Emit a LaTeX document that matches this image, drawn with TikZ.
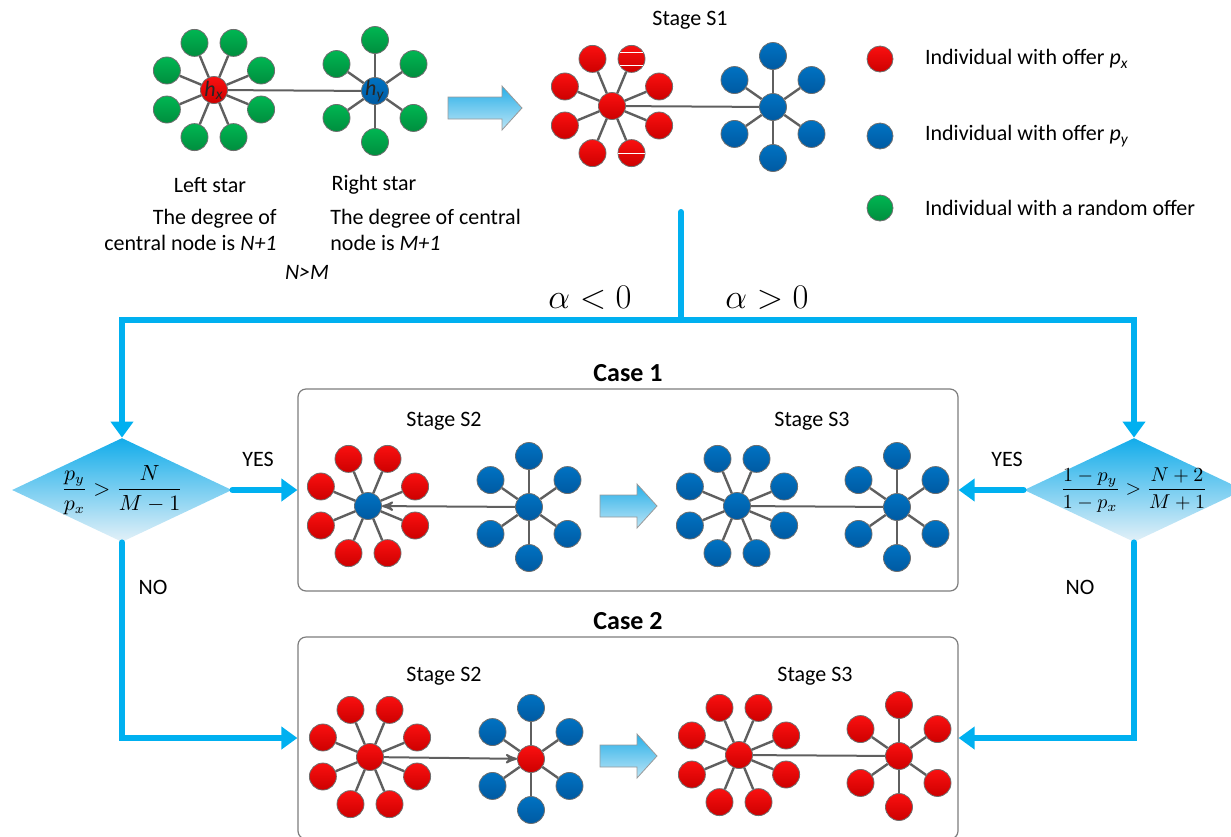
\documentclass[tikz,border=0pt]{standalone}
\usepackage{amsmath}
\usepackage{fontspec}
\setmainfont{Carlito}
\usetikzlibrary{arrows, arrows.meta, shapes.geometric, calc}

\definecolor{flowblue}{RGB}{0,176,240}
\definecolor{rimgray}{RGB}{110,110,110}
\definecolor{spokegray}{RGB}{95,95,95}
\definecolor{boxgray}{RGB}{125,125,125}
\definecolor{redtop}{RGB}{250,16,16}
\definecolor{redbot}{RGB}{205,0,0}
\definecolor{bluetop}{RGB}{0,114,194}
\definecolor{bluebot}{RGB}{0,90,162}
\definecolor{greentop}{RGB}{0,182,82}
\definecolor{greenbot}{RGB}{0,142,62}
\definecolor{arrowtop}{RGB}{40,175,232}
\definecolor{arrowbot}{RGB}{188,229,246}
\definecolor{diamtop}{RGB}{18,172,234}
\definecolor{diambot}{RGB}{228,241,248}

\begin{document}
\begin{tikzpicture}[x=0.5pt, y=-0.5pt, >=stealth', font=\fontsize{11}{13}\selectfont,
	ball/.style={circle, draw=rimgray, line width=0.4pt, inner sep=0pt, minimum size=13.5pt},
	redball/.style={ball, top color=redtop, bottom color=redbot},
	blueball/.style={ball, top color=bluetop, bottom color=bluebot},
	greenball/.style={ball, top color=greentop, bottom color=greenbot},
	spoke/.style={draw=spokegray, line width=1.2pt},
	link/.style={draw=spokegray, line width=1pt},
	glint/.style={draw=white, line width=0.6pt},
	hublabel/.style={inner sep=0pt, text=black!85, font=\fontsize{11}{12}\selectfont},
	flow/.style={draw=flowblue, line width=3pt, line cap=round},
	flowarrow/.style={flow, -{Triangle[length=8pt, width=11pt]}},
	decision/.style={diamond, aspect=2.1, inner sep=0pt, minimum width=110pt, minimum height=52pt,
		top color=diamtop, bottom color=diambot},
	casebox/.style={draw=boxgray, line width=0.6pt, rounded corners=4pt,
		minimum width=330pt, minimum height=101pt},
	casetitle/.style={font=\fontsize{13}{15}\selectfont\bfseries},
	bigarrow/.style={draw=rimgray!70, line width=0.4pt, top color=arrowtop, bottom color=arrowbot}]

	\useasboundingbox (0,0) rectangle (1231,836);

	% stars with eight leaves
	\foreach \hub/\px/\py/\hubcol/\leafcol in {lx/214/90/redball/greenball, s1l/612/106/redball/redball,
		c1a/368/506/blueball/redball, c1c/737/506/blueball/blueball,
		c2a/370/757/redball/redball, c2c/739/755/redball/redball} {
		\node[\hubcol] (\hub) at (\px, \py) {};
		\foreach \a [count=\i] in {22.5, 67.5, ..., 337.5} {
			\node[\leafcol] (\hub-\i) at ($(\hub)+(\a:51)$) {};
			\draw[spoke] (\hub) -- (\hub-\i);
		}
	}

	% stars with six leaves
	\foreach \hub/\px/\py/\hubcol/\leafcol in {ly/375/91/blueball/greenball, s1r/773/107/blueball/blueball,
		c1b/529/507/blueball/blueball, c1d/897/507/blueball/blueball,
		c2b/531/759/redball/blueball, c2d/899/756/redball/redball} {
		\node[\hubcol] (\hub) at (\px, \py) {};
		\foreach \a/\r [count=\i] in {90/51, 35/47, -35/47, -90/51, -145/47, 145/47} {
			\node[\leafcol] (\hub-\i) at ($(\hub)+(\a:\r)$) {};
			\draw[spoke] (\hub) -- (\hub-\i);
		}
	}

	\node[hublabel] (hx) at (lx) {\textit{h}\textsubscript{\textit{x}}};
	\node[hublabel] (hy) at (ly) {\textit{h}\textsubscript{\textit{y}}};

	\path[link] (lx) edge (ly)
		(s1l) edge (s1r)
		(c1c) edge (c1d)
		(c2c) edge (c2d);
	\draw[link, ->] (c1b) -- (c1a);
	\draw[link, ->] (c2a) -- (c2b);

	\draw[glint] ([shift={(-5.9pt,3.3pt)}]s1l-7.center) -- ([shift={(5.9pt,3.3pt)}]s1l-7.center);
	\draw[glint] ([shift={(-5.9pt,-3.3pt)}]s1l-7.center) -- ([shift={(5.9pt,-3.3pt)}]s1l-7.center);
	\draw[glint] ([xshift=-6.6pt]s1l-2.center) -- ([xshift=6.6pt]s1l-2.center);

	% texts of the top part
	\node (leftstar) at (210, 185) {Left star};
	\node (rightstar) at (374, 185) {Right star};
	\node[align=right, anchor=east, inner sep=0pt] (leftdeg) at (277, 230)
		{The degree of\\central node is \textit{N+1}};
	\node[align=left, anchor=west, inner sep=0pt] (rightdeg) at (330, 230)
		{The degree of central\\node is \textit{M+1}};
	\node (nm) at (307, 272) {\textit{N>M}};
	\node (stage1) at (690, 20) {Stage S1};

	% legend
	\node[redball, minimum size=13pt] (legx) at (880, 59) {};
	\node[blueball, minimum size=13pt] (legy) at (880, 136) {};
	\node[greenball, minimum size=13pt] (legr) at (880, 208) {};
	\node[anchor=west] (legxtext) at (918, 59) {Individual with offer \textit{p}\textsubscript{\textit{x}}};
	\node[anchor=west] (legytext) at (918, 136) {Individual with offer \textit{p}\textsubscript{\textit{y}}};
	\node[anchor=west] (legrtext) at (918, 208) {Individual with a random offer};

	% shaded arrows
	\foreach \ax/\ay/\al in {448/108/74, 600/506/57, 600/756/57}
		\draw[bigarrow] (\ax, {\ay-11}) -- ({\ax+\al-20}, {\ay-11}) -- ({\ax+\al-20}, {\ay-22})
			-- ({\ax+\al}, \ay) -- ({\ax+\al-20}, {\ay+22}) -- ({\ax+\al-20}, {\ay+11})
			-- (\ax, {\ay+11}) -- cycle;

	% cases
	\node[casebox] (case1) at (628, 490) {};
	\node[casebox] (case2) at (628, 738) {};
	\node[casetitle] (case1title) at (628, 373) {Case 1};
	\node[casetitle] (case2title) at (628, 621) {Case 2};
	\node (c1s2) at (444, 421) {Stage S2};
	\node (c1s3) at (812, 421) {Stage S3};
	\node (c2s2) at (444, 676) {Stage S2};
	\node (c2s3) at (815, 676) {Stage S3};

	% decisions
	\node[decision] (dleft) at (122, 490)
		{\makebox[40pt]{\fontsize{10.5}{12}\selectfont$\displaystyle\frac{p_y}{p_x}>\frac{N}{M-1}$}};
	\node[decision] (dright) at (1134, 490)
		{\makebox[40pt]{\fontsize{10}{12}\selectfont$\displaystyle\frac{1-p_y}{1-p_x}>\frac{N+2}{M+1}$}};

	% flow lines
	\coordinate (fork) at (681, 212);
	\coordinate (split) at (681, 320);
	\draw[flow] (fork) -- (split);
	\draw[flowarrow] (split) -| (dleft.north);
	\draw[flowarrow] (split) -| (dright.north);
	\draw[flowarrow] (dleft.east) -- (case1.west);
	\draw[flowarrow] (dright.west) -- (case1.east);
	\draw[flowarrow] (dleft.south) |- (case2.west);
	\draw[flowarrow] (dright.south) |- (case2.east);

	\node[font=\fontsize{16}{18}\selectfont] (aneg) at (590, 298) {$\alpha<0$};
	\node[font=\fontsize{16}{18}\selectfont] (apos) at (767, 298) {$\alpha>0$};
	\node (yesl) at (258, 459) {YES};
	\node (yesr) at (1007, 459) {YES};
	\node (nol) at (153, 587) {NO};
	\node (nor) at (1080, 587) {NO};
\end{tikzpicture}
\end{document}
